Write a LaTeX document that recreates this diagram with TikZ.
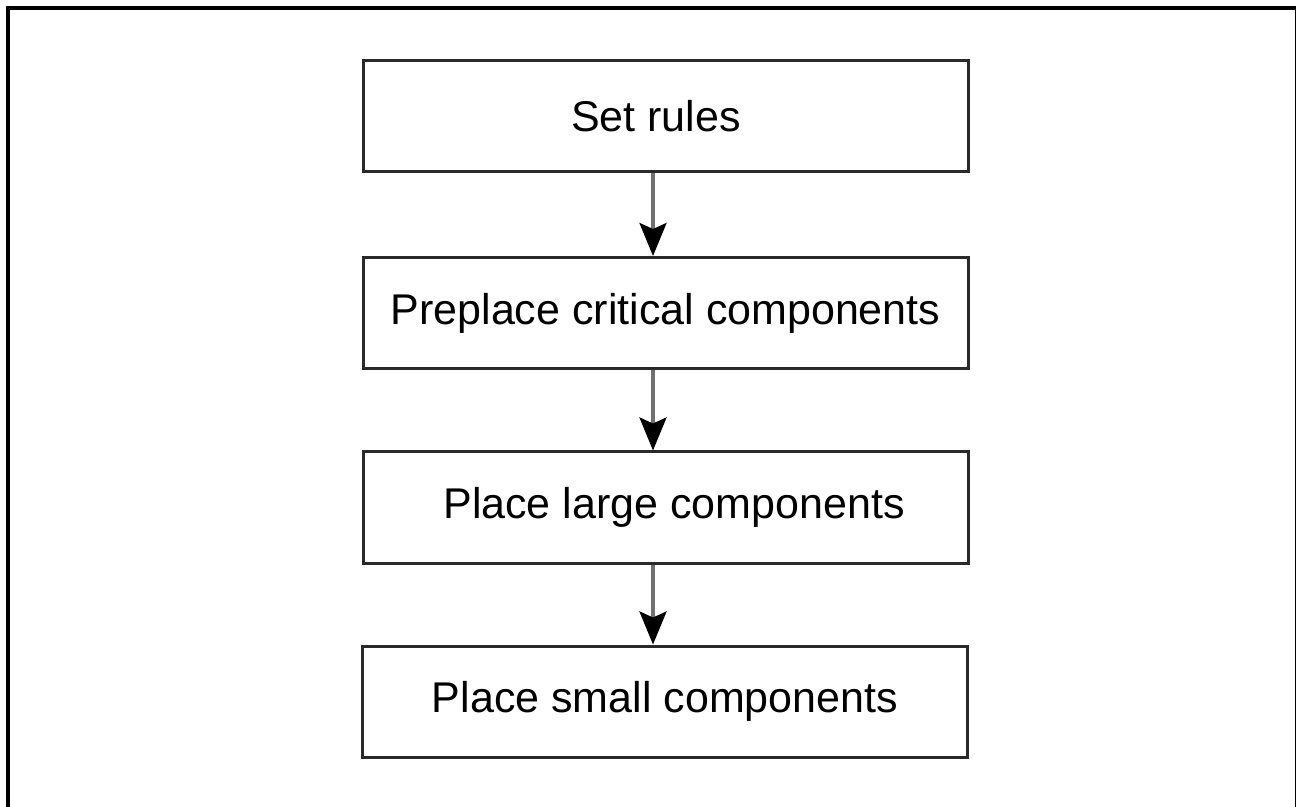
\documentclass[tikz,border=0pt]{standalone}
\usepackage{fontspec}
\setmainfont{Liberation Sans}
\usetikzlibrary{arrows.meta}
\definecolor{boxline}{HTML}{2A2A2A}
\definecolor{flowline}{HTML}{707070}
\begin{document}
\begin{tikzpicture}[x=0.5pt,y=-0.5pt,
  stepbox/.style={draw=boxline, line width=1.5pt, fill=white,
    minimum width=302.5pt, minimum height=55.5pt, inner sep=0pt,
    font=\fontsize{21.5pt}{26pt}\selectfont},
  flow/.style={draw=flowline, line width=1.6pt,
    -{Stealth[length=16.5pt, width=13.5pt, inset=3pt, color=black]}}]
  \useasboundingbox (0,0) rectangle (1296,807);
  % outer frame, open at the bottom edge of the page
  \begin{scope}
    \clip (0,0) rectangle (1296,807);
    \draw[line width=2pt, draw=black] (8,830) -- (8,8) -- (1297,8) -- (1297,830);
  \end{scope}
  % process steps
  \node[stepbox] (rules)    at (665.5,116) {\hspace*{-9.5pt}Set rules};
  \node[stepbox] (preplace) at (665.5,313) {Preplace critical components};
  \node[stepbox] (large)    at (665.5,507.5) {\hspace*{8.5pt}Place large components};
  \node[stepbox] (small)    at (665,701.5) {Place small components};
  % connectors run left of the box centre line
  \coordinate (ax) at (653,0);
  \draw[flow] (rules.south -| ax) -- (preplace.north -| ax);
  \draw[flow] (preplace.south -| ax) -- (large.north -| ax);
  \draw[flow] (large.south -| ax) -- (small.north -| ax);
\end{tikzpicture}
\end{document}
